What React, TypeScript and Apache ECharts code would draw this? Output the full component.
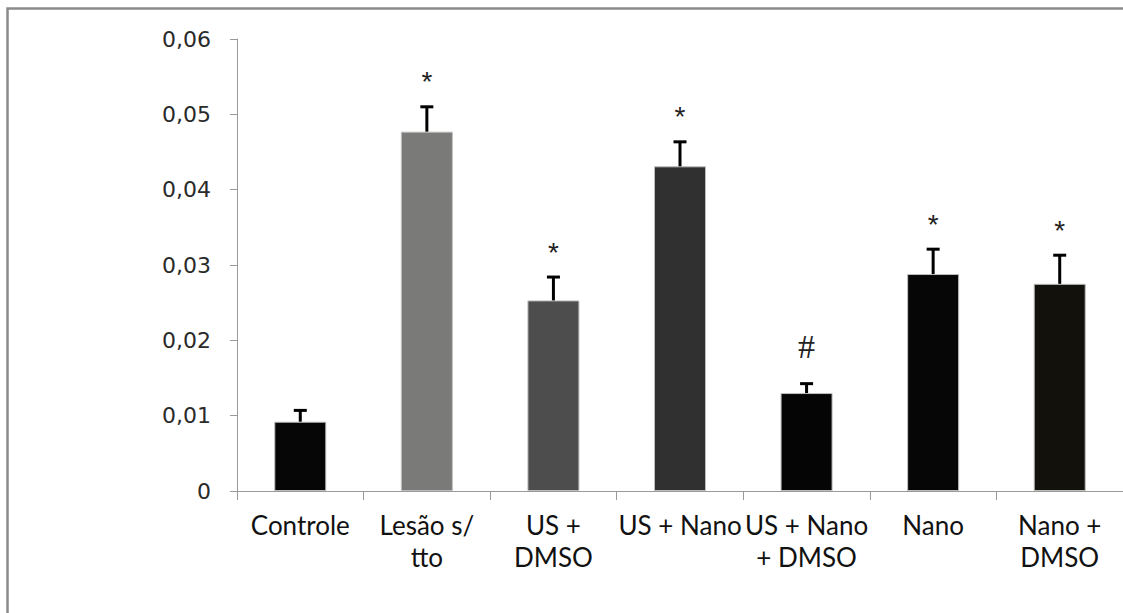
import React, { useEffect, useRef } from "react";
import * as echarts from "echarts";

const categories = ["Controle", "Lesão s/\ntto", "US +\nDMSO", "US + Nano", "US + Nano\n+ DMSO", "Nano", "Nano +\nDMSO"];
const means = [0.0092, 0.0477, 0.0253, 0.0431, 0.013, 0.0288, 0.0275];
const errors = [0.0015, 0.0033, 0.0031, 0.00325, 0.00125, 0.0033, 0.0038];
const marks = ["", "*", "*", "*", "#", "*", "*"];
const barColors = ["#060606", "#7a7a78", "#4d4d4d", "#303030", "#050505", "#060606", "#12110b"];
const yTickLabels = ["0", "0,01", "0,02", "0,03", "0,04", "0,05", "0,06"];

export default function App() {
  const ref = useRef<HTMLDivElement>(null);
  useEffect(() => {
    if (!ref.current) return;
    const chart = echarts.init(ref.current, undefined, { renderer: "svg" });
    const errData = categories.map((_, i) => [i, means[i], means[i] + errors[i]]);
    const markData = categories.map((_, i) => [i, means[i] + errors[i], i]);
    chart.setOption({
      animation: false,
      backgroundColor: "#ffffff",
      graphic: [
        {
          type: "rect",
          shape: { x: 7.5, y: 8.5, width: 1200, height: 700 },
          style: { fill: "none", stroke: "#8a8a8a", lineWidth: 2.5 },
          silent: true,
        },
      ],
      grid: { left: 237, top: 39, width: 889, height: 452 },
      xAxis: {
        type: "category",
        data: categories,
        boundaryGap: true,
        axisLine: { show: true, lineStyle: { color: "#9a9a9a", width: 1 } },
        axisTick: { show: true, length: 9, lineStyle: { color: "#9a9a9a" }, interval: 0 },
        axisLabel: {
          interval: 0,
          margin: 18,
          color: "#111111",
          fontFamily: "Lato",
          fontSize: 26,
          lineHeight: 32,
          align: "center",
        },
      },
      yAxis: {
        type: "value",
        min: 0,
        max: 0.06,
        interval: 0.01,
        splitLine: { show: false },
        axisLine: { show: true, lineStyle: { color: "#9a9a9a", width: 1 } },
        axisTick: { show: true, length: 7, lineStyle: { color: "#9a9a9a" } },
        axisLabel: {
          margin: 26,
          color: "#2a2a2a",
          fontFamily: "DejaVu Sans",
          fontSize: 22,
          formatter: (v: number) => yTickLabels[Math.round(v / 0.01)] ?? "",
        },
      },
      series: [
        {
          type: "bar",
          barWidth: 52,
          z: 3,
          data: means.map((v, i) => ({
            value: v,
            itemStyle: { color: barColors[i], borderColor: "#bdbdbd", borderWidth: 1 },
          })),
        },
        {
          type: "custom",
          z: 4,
          data: errData,
          renderItem: (params: any, api: any) => {
            const i = api.value(0);
            const p0 = api.coord([i, api.value(1)]);
            const p1 = api.coord([i, api.value(2)]);
            const style = { stroke: "#000000", lineWidth: 3 };
            return {
              type: "group",
              children: [
                { type: "line", shape: { x1: p0[0], y1: p0[1], x2: p1[0], y2: p1[1] }, style },
                { type: "line", shape: { x1: p1[0] - 6.5, y1: p1[1], x2: p1[0] + 6.5, y2: p1[1] }, style },
              ],
            };
          },
        },
        {
          type: "custom",
          z: 5,
          data: markData,
          renderItem: (params: any, api: any) => {
            const i = api.value(0);
            const p = api.coord([i, api.value(1)]);
            const t = marks[i];
            const isHash = t === "#";
            return {
              type: "text",
              x: p[0],
              y: p[1] - (isHash ? 37 : 25),
              style: {
                text: t,
                align: "center",
                verticalAlign: "middle",
                textAlign: "center",
                textVerticalAlign: "middle",
                fontFamily: isHash ? "Liberation Serif" : "Liberation Sans",
                fontSize: isHash ? 34 : 28,
                fill: "#222222",
              },
            };
          },
        },
      ],
    });
    return () => chart.dispose();
  }, []);
  return (
    <div
      ref={ref}
      style={{ position: "absolute", left: 0, top: 0, width: 1123, height: 613 }}
    />
  );
}
